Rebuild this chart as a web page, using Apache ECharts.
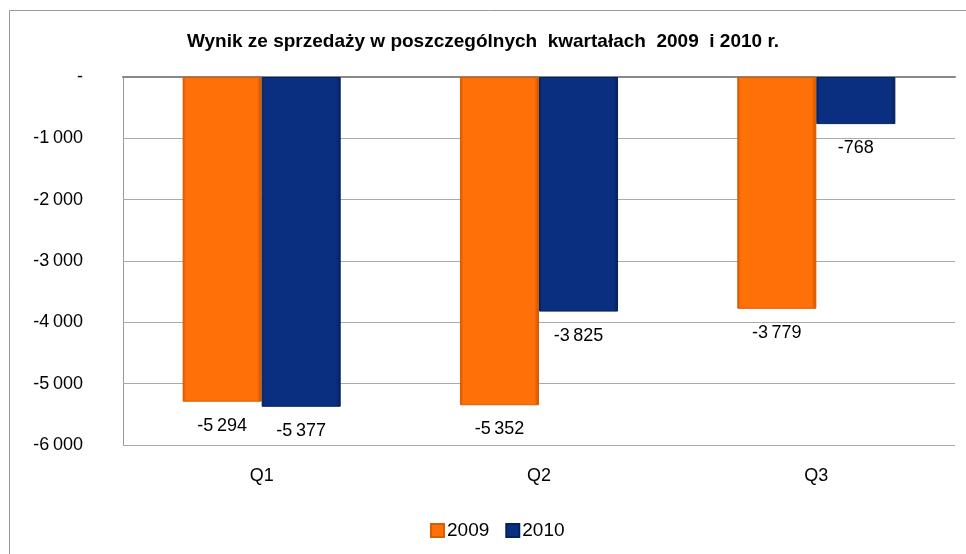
<!DOCTYPE html>
<html>
<head>
<meta charset="utf-8">
<script src="https://cdn.jsdelivr.net/npm/echarts@6/dist/echarts.min.js"></script>
<style>
  html, body { margin: 0; padding: 0; background: #fff; }
  #main { width: 966px; height: 554px; }
</style>
</head>
<body>
<div id="main"></div>
<script>
var quarters = ["Q1", "Q2", "Q3"];
var sales2009 = [-5294, -5352, -3779];
var sales2010 = [-5377, -3825, -768];
var seriesNames = ["2009", "2010"];

// liczby z wąskim odstępem tysięcy, 0 jako "-"
function fmt(v) {
  if (v === 0) return "-";
  var s = String(Math.abs(v)).replace(/\B(?=(\d{3})+(?!\d))/g, "\u2009");
  return (v < 0 ? "-" : "") + s;
}

function barColor(main, dark) {
  return new echarts.graphic.LinearGradient(0, 0, 1, 0, [
    { offset: 0, color: dark },
    { offset: 0.04, color: main },
    { offset: 0.94, color: main },
    { offset: 1, color: dark }
  ]);
}

var myChart = echarts.init(document.getElementById("main"));

myChart.setOption({
  textStyle: { fontFamily: "Liberation Sans, Arial, sans-serif" },
  title: {
    text: "Wynik ze sprzedaży w poszczególnych  kwartałach  2009  i 2010 r.",
    left: "center",
    top: 27,
    textStyle: { fontSize: 19, fontWeight: "bold", color: "#000" }
  },
  graphic: [
    {
      type: "rect",
      shape: { x: 9.5, y: 10.5, width: 1000, height: 600 },
      style: { fill: "none", stroke: "#999", lineWidth: 1 },
      silent: true
    },
    {
      type: "line",
      shape: { x1: 123.5, y1: 77, x2: 123.5, y2: 445 },
      style: { stroke: "#999", lineWidth: 1 },
      silent: true
    }
  ],
  legend: {
    data: seriesNames,
    bottom: 9,
    left: 425,
    itemWidth: 13,
    itemHeight: 13,
    itemGap: 16,
    icon: "rect",
    textStyle: { fontSize: 19, color: "#000", padding: [0, 0, 0, -2] }
  },
  grid: {
    left: 123,
    right: 11,
    top: 77,
    bottom: 109
  },
  xAxis: [
    {
      type: "category",
      data: quarters,
      position: "bottom",
      axisLine: { show: false, onZero: false },
      axisTick: { show: false },
      axisLabel: { fontSize: 18, color: "#000", margin: 22 }
    },
    {
      type: "category",
      data: quarters,
      position: "top",
      axisLine: { show: true, onZero: false, lineStyle: { color: "#888", width: 2 } },
      axisTick: { show: false },
      axisLabel: { show: false }
    }
  ],
  yAxis: {
    type: "value",
    min: -6000,
    max: 0,
    interval: 1000,
    axisLine: { show: false },
    axisTick: { show: false },
    splitLine: { lineStyle: { color: "#aaa", width: 1 } },
    axisLabel: {
      fontSize: 18,
      color: "#000",
      margin: 40,
      formatter: fmt
    }
  },
  series: [
    {
      name: seriesNames[0],
      type: "bar",
      data: sales2009,
      barGap: "0%",
      barCategoryGap: "43%",
      itemStyle: {
        color: barColor("#ff7008", "#c85200"),
        borderColor: "#d65d00",
        borderWidth: 1
      },
      label: {
        show: true,
        position: "bottom",
        distance: 15,
        fontSize: 18,
        color: "#000",
        formatter: function (p) { return fmt(p.value); }
      }
    },
    {
      name: seriesNames[1],
      type: "bar",
      data: sales2010,
      itemStyle: {
        color: barColor("#0a2f80", "#06205a"),
        borderColor: "#06225e",
        borderWidth: 1
      },
      label: {
        show: true,
        position: "bottom",
        distance: 15,
        fontSize: 18,
        color: "#000",
        formatter: function (p) { return fmt(p.value); }
      }
    }
  ]
});
</script>
</body>
</html>
